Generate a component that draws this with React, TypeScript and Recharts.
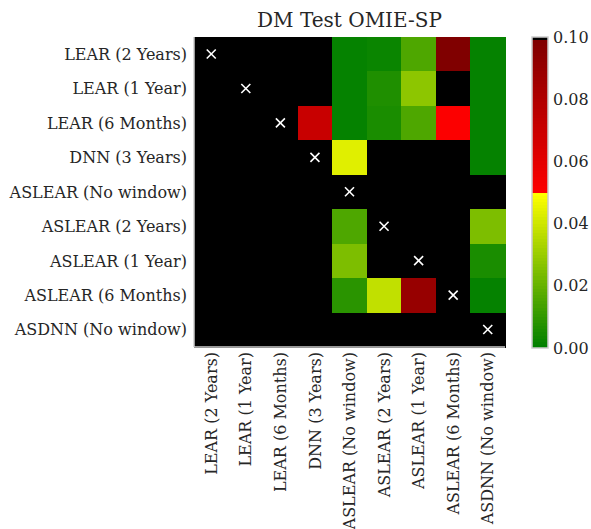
import { BarChart, Bar, XAxis, YAxis } from 'recharts'

const models = [
  'LEAR (2 Years)',
  'LEAR (1 Year)',
  'LEAR (6 Months)',
  'DNN (3 Years)',
  'ASLEAR (No window)',
  'ASLEAR (2 Years)',
  'ASLEAR (1 Year)',
  'ASLEAR (6 Months)',
  'ASDNN (No window)',
]

// p-values per row (row model vs column model), null on the diagonal
const pLear2y = [null, 1, 1, 1, 0.001, 0.002, 0.015, 0.098, 0.001]
const pLear1y = [1, null, 1, 1, 0.001, 0.006, 0.028, 1, 0.001]
const pLear6m = [1, 1, null, 0.071, 0.001, 0.005, 0.015, 0.05, 0.001]
const pDnn3y = [1, 1, 1, null, 0.044, 1, 1, 1, 0.001]
const pAslearNw = [1, 1, 1, 1, null, 1, 1, 1, 1]
const pAslear2y = [1, 1, 1, 1, 0.015, null, 1, 1, 0.024]
const pAslear1y = [1, 1, 1, 1, 0.024, 1, null, 1, 0.005]
const pAslear6m = [1, 1, 1, 1, 0.008, 0.038, 0.09, null, 0.001]
const pAsdnnNw = [1, 1, 1, 1, 1, 1, 1, 1, null]

const pValues = [pLear2y, pLear1y, pLear6m, pDnn3y, pAslearNw, pAslear2y, pAslear1y, pAslear6m, pAsdnnNw]
const cbarTicks = [0, 0.02, 0.04, 0.06, 0.08, 0.1]

const FONT = 'DejaVu Serif'
const TEXT = '#262626'
const BORDER = '#cccccc'

// green -> yellow (0..0.05), red -> dark red (0.05..0.1), black above
function cmap(v: number | null): string {
  if (v == null) return '#000000'
  let i = Math.floor((v / 0.1) * 100)
  if (i < 0) i = 0
  if (i > 99) i = 99
  let r = 0
  let g = 0
  if (i < 50) {
    r = i / 49
    g = 0.5 + (0.5 * i) / 49
  } else if (i < 99) {
    r = 1 - (0.5 * (i - 49)) / 49
  }
  return `rgb(${Math.round(r * 255)},${Math.round(g * 255)},0)`
}

const rows = models.map((name, ri) => {
  const row: Record<string, any> = { name, ri }
  models.forEach((_, ci) => {
    row[`c${ci}`] = 1
  })
  return row
})

const cellShape = (ci: number) => (props: any) => {
  const { x, y, width, height, payload } = props
  const ri = payload.ri
  const fill = cmap(pValues[ri][ci])
  const cx = x + width / 2
  const cy = y + height / 2
  const s = 4.5
  return (
    <g>
      <rect x={x} y={y} width={width + 1} height={height + 1} fill={fill} shapeRendering="crispEdges" />
      {ri === ci && (
        <g stroke="#ffffff" strokeWidth={1.6}>
          <line x1={cx - s} y1={cy - s} x2={cx + s} y2={cy + s} />
          <line x1={cx - s} y1={cy + s} x2={cx + s} y2={cy - s} />
        </g>
      )}
    </g>
  )
}

const XTick = (props: any) => {
  const { x, y, payload } = props
  const label = models[Math.floor(payload.value)]
  return (
    <text
      x={x}
      y={y}
      transform={`rotate(-90, ${x}, ${y})`}
      textAnchor="end"
      dy="0.35em"
      fontSize={16}
      fontFamily={FONT}
      fill={TEXT}
    >
      {label}
    </text>
  )
}

const cmapStops: { offset: number; color: string }[] = []
for (let i = 0; i < 100; i++) {
  const c = cmap((i + 0.5) / 1000)
  cmapStops.push({ offset: i / 100, color: c })
  cmapStops.push({ offset: (i + 1) / 100, color: c })
}

export default function App() {
  return (
    <div
      style={{
        position: 'absolute',
        left: 0,
        top: 0,
        width: 591,
        height: 529,
        overflow: 'hidden',
        background: '#ffffff',
        fontFamily: FONT,
      }}
    >
      <div
        style={{
          position: 'absolute',
          left: 194,
          width: 311,
          top: 9,
          textAlign: 'center',
          fontSize: 20,
          lineHeight: '23px',
          color: TEXT,
        }}
      >
        DM Test OMIE-SP
      </div>
      <div style={{ position: 'absolute', left: 0, top: 0 }}>
        <BarChart
          width={506}
          height={529}
          data={rows}
          layout="vertical"
          barCategoryGap={0}
          barGap={0}
          margin={{ top: 37, right: 1, left: 0, bottom: 2 }}
        >
          <XAxis
            type="number"
            domain={[0, 9]}
            ticks={[0.5, 1.5, 2.5, 3.5, 4.5, 5.5, 6.5, 7.5, 8.5]}
            height={180}
            tickLine={false}
            tickSize={4}
            tickMargin={1}
            axisLine={{ stroke: BORDER, strokeWidth: 1.5 }}
            tick={<XTick />}
            interval={0}
          />
          <XAxis
            xAxisId="top"
            orientation="top"
            type="number"
            domain={[0, 9]}
            height={0}
            tick={false}
            tickLine={false}
            axisLine={{ stroke: BORDER, strokeWidth: 1.5 }}
          />
          <YAxis
            type="category"
            dataKey="name"
            width={194}
            tickLine={false}
            tickSize={4}
            tickMargin={3}
            axisLine={{ stroke: BORDER, strokeWidth: 1.5 }}
            tick={{ fontSize: 16, fontFamily: FONT, fill: TEXT }}
            interval={0}
          />
          <YAxis
            yAxisId="right"
            orientation="right"
            type="category"
            dataKey="name"
            width={0}
            tick={false}
            tickLine={false}
            axisLine={{ stroke: BORDER, strokeWidth: 1.5 }}
          />
          {models.map((_, ci) => (
            <Bar
              key={ci}
              dataKey={`c${ci}`}
              stackId="a"
              isAnimationActive={false}
              shape={cellShape(ci)}
            />
          ))}
        </BarChart>
      </div>
      <div style={{ position: 'absolute', left: 520, top: 0 }}>
        <BarChart
          width={71}
          height={529}
          data={[{ name: 'cbar', v: 0.1 }]}
          barCategoryGap={0}
          margin={{ top: 37, right: 0, left: 12, bottom: 181 }}
        >
          <defs>
            <linearGradient id="cmapGrad" x1="0" y1="1" x2="0" y2="0">
              {cmapStops.map((s, i) => (
                <stop key={i} offset={s.offset} stopColor={s.color} />
              ))}
            </linearGradient>
          </defs>
          <XAxis dataKey="name" hide />
          <YAxis
            orientation="right"
            domain={[0, 0.1]}
            ticks={cbarTicks}
            width={43}
            tickLine={false}
            tickSize={3}
            tickMargin={2}
            axisLine={false}
            tickFormatter={(v: number) => v.toFixed(2)}
            tick={{ fontSize: 16, fontFamily: FONT, fill: TEXT, textAnchor: 'start' }}
            interval={0}
          />
          <Bar
            dataKey="v"
            fill="url(#cmapGrad)"
            stroke={BORDER}
            strokeWidth={1.5}
            isAnimationActive={false}
          />
        </BarChart>
      </div>
    </div>
  )
}
